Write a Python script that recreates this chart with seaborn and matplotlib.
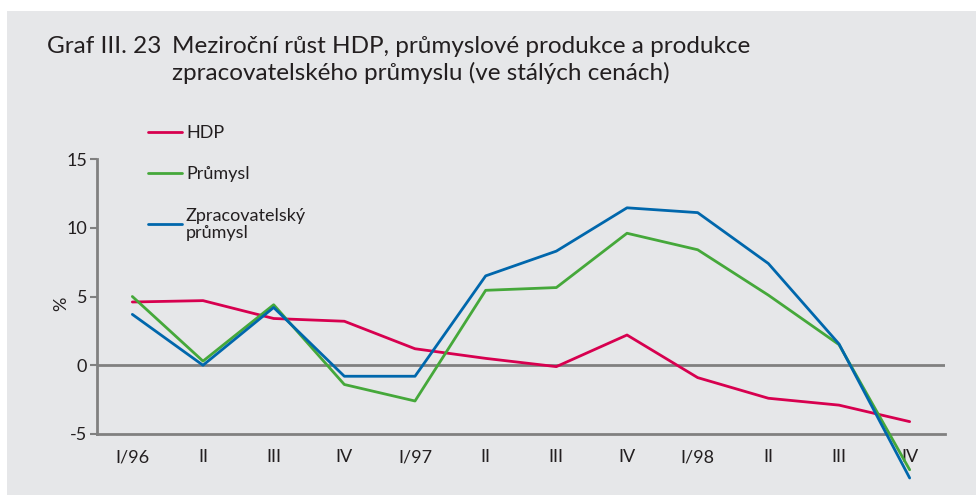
import numpy as np
import pandas as pd
import matplotlib
matplotlib.use("Agg")
import matplotlib.pyplot as plt
import seaborn as sns
from matplotlib.patches import Rectangle

# quarters 1996-1998
quarters = ["I/96", "II", "III", "IV", "I/97", "II", "III", "IV",
            "I/98", "II", "III", "IV"]
hdp = [4.6, 4.7, 3.4, 3.2, 1.2, 0.5, -0.1, 2.2, -0.9, -2.4, -2.9, -4.1]
prumysl = [5.0, 0.3, 4.4, -1.4, -2.6, 5.45, 5.65, 9.6, 8.4, 5.1, 1.5, -7.6]
zprac = [3.7, 0.0, 4.2, -0.8, -0.8, 6.5, 8.3, 11.45, 11.1, 7.4, 1.55, -8.2]

series_names = ["HDP", "Průmysl", "Zpracovatelský\nprůmysl"]
colors = ["#d7004f", "#45a83a", "#0067ac"]

pos = np.arange(len(quarters))
df = pd.DataFrame({
    "pos": np.tile(pos, 3),
    "value": hdp + prumysl + zprac,
    "series": np.repeat(series_names, len(quarters)),
})

sns.set_theme(style="white")
plt.rcParams["font.family"] = ["Lato", "DejaVu Sans"]

grey = "#808080"
bg = "#e6e7e9"
txt = "#231f20"

fig = plt.figure(figsize=(9.76, 4.95), dpi=100)
fig.patch.set_facecolor("white")
fig.patches.append(Rectangle((7 / 976, 0), 1, 1 - 11 / 495, transform=fig.transFigure,
                             facecolor=bg, edgecolor="none", zorder=-10))

ax = fig.add_axes([97 / 976, 1 - 434 / 495, (945 - 97) / 976, (434 - 159) / 495])
ax.patch.set_alpha(0)

sns.lineplot(data=df, x="pos", y="value", hue="series", palette=colors,
             hue_order=series_names, linewidth=2.0, legend=False,
             clip_on=False, ax=ax, zorder=3)
handles = list(ax.get_lines())

ax.axhline(0, color=grey, linewidth=2.0, zorder=1)

ax.set_xlim(-0.5, len(quarters) - 0.5)
ax.set_ylim(-5, 15)
ax.set_yticks([-5, 0, 5, 10, 15])
ax.set_yticklabels(["-5", "0", "5", "10", "15"])
ax.set_xticks(pos)
ax.set_xticklabels(quarters)
ax.set_xticks(pos + 0.5, minor=True)

for s in ["top", "right"]:
    ax.spines[s].set_visible(False)
for s in ["left", "bottom"]:
    ax.spines[s].set_color(grey)
    ax.spines[s].set_linewidth(2.0)

ax.tick_params(axis="x", which="major", length=0, pad=11, labelsize=13, labelcolor=txt)
ax.tick_params(axis="x", which="minor", length=5, width=2.0, color=grey, direction="out")
ax.tick_params(axis="y", length=5, width=1.5, color=grey, pad=2, labelsize=13,
               labelcolor=txt, left=True)
ax.set_xlabel("")
ax.set_ylabel("")

fig.text(61 / 976, 1 - 304 / 495, "%", rotation=90, ha="center", va="center",
         fontsize=13, color=txt)

leg = fig.legend(handles, series_names, loc="upper left",
                 bbox_to_anchor=(148 / 976, 1 - 125 / 495), frameon=False,
                 borderpad=0, borderaxespad=0,
                 handlelength=1.9, handletextpad=0.2, labelspacing=1.4,
                 fontsize=13)
for t in leg.get_texts():
    t.set_color(txt)
    t.set_linespacing(1.1)

fig.text(47 / 976, 1 - 53 / 495, "Graf III. 23", fontsize=17.5, color=txt,
         va="baseline", ha="left")
fig.text(172 / 976, 1 - 53 / 495,
         "Meziroční růst HDP, průmyslové produkce a produkce",
         fontsize=17.5, color=txt, va="baseline", ha="left")
fig.text(172 / 976, 1 - 80 / 495,
         "zpracovatelského průmyslu (ve stálých cenách)",
         fontsize=17.5, color=txt, va="baseline", ha="left")

fig.savefig("out.png", dpi=100, facecolor=fig.get_facecolor())
